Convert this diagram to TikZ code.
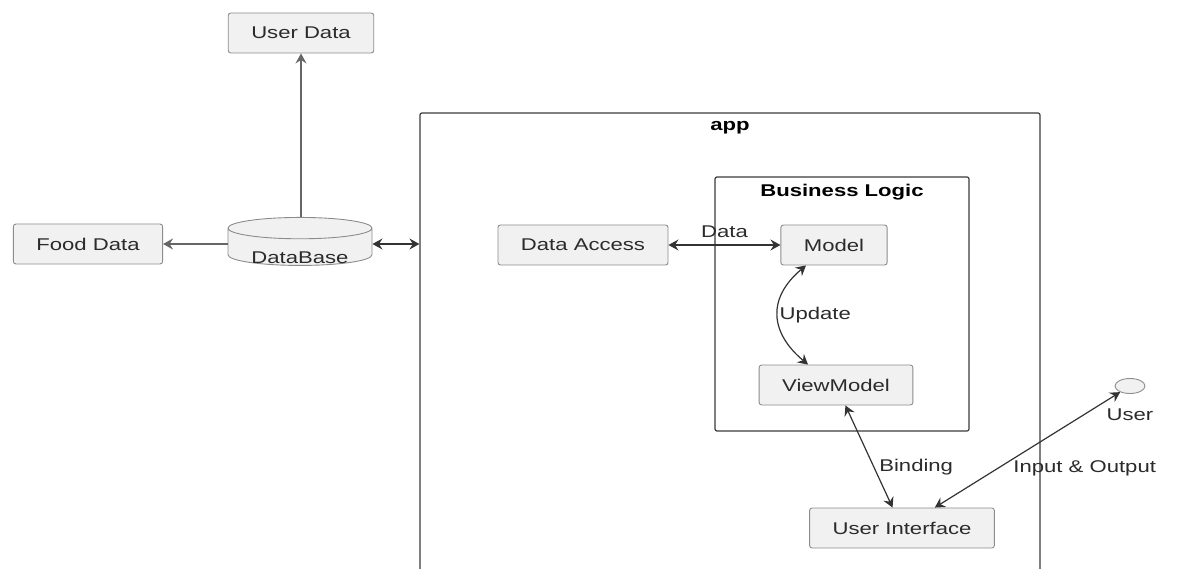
\documentclass[tikz,border=0pt]{standalone}
\usepackage{fontspec}
\setmainfont{Liberation Sans}[FakeStretch=1.3]
\usetikzlibrary{arrows.meta,positioning,shapes.geometric}
\definecolor{boxfill}{HTML}{F1F1F1}
\definecolor{boxline}{HTML}{8C8C8C}
\definecolor{frameline}{HTML}{3A3A3A}
\definecolor{ink}{HTML}{2B2B2B}
\tikzset{
  box/.style   = {rectangle, rounded corners=2.5pt, draw=boxline,
                  fill=boxfill, minimum height=40pt, inner xsep=23pt,
                  font=\fontsize{17pt}{20pt}\selectfont, text=ink,
                  line width=0.9pt},
  dbbox/.style = {cylinder, shape border rotate=90, aspect=0.22,
                  draw=boxline, fill=boxfill, minimum width=144pt,
                  minimum height=48pt, inner sep=0pt, line width=0.9pt,
                  font=\fontsize{17pt}{20pt}\selectfont, text=ink},
  frame/.style = {rectangle, rounded corners=2pt, draw=frameline,
                  line width=1.2pt},
  title/.style = {font=\fontsize{17pt}{20pt}\selectfont\bfseries,
                  text=black, inner sep=1pt},
  lbl/.style   = {font=\fontsize{17pt}{20pt}\selectfont, text=ink,
                  inner sep=1pt},
  arr/.style   = {{Stealth[length=10pt, width=11pt, inset=3.5pt]}-{Stealth[length=10pt, width=11pt, inset=3.5pt]},
                  draw=black!80, line width=1.2pt},
  oarr/.style  = {-{Stealth[length=10pt, width=11pt, inset=3.5pt]},
                  draw=black!60, line width=1.2pt}
}

\begin{document}
\begin{tikzpicture}[x=1pt, y=-1pt]
  \clip (0,0) rectangle (1178,569);

  % frames
  \node[frame, minimum width=620pt, minimum height=500pt] (app) at (730,363) {};
  \node[title, below=8pt of app.north] (apptitle) {app};
  \node[frame, minimum width=254pt, minimum height=254pt] (logic) at (842,304) {};
  \node[title, below=7pt of logic.north] (logictitle) {Business Logic};

  % storage side
  \node[dbbox] (db) at (300,247) {\raisebox{-17pt}[0pt][0pt]{DataBase}};
  \node[box] (userdata) at (301,33) {User Data};
  \node[box] (fooddata) at (88,244) {Food Data};

  % app side
  \node[box] (access) at (583,245) {Data Access};
  \node[box] (model) at (834,245) {Model};
  \node[box] (viewmodel) at (836,385) {ViewModel};
  \node[box] (ui) at (902,528) {User Interface};

  \node[ellipse, draw=boxline, fill=boxfill, line width=0.9pt,
        minimum width=30pt, minimum height=15pt, inner sep=0pt] (usr) at (1130,386) {};
  \node[lbl, below=14pt of usr] (usrlbl) {User};

  % connectors
  \draw[oarr] (db.north -| userdata) -- (userdata);
  \draw[oarr] (db.west |- fooddata) -- (fooddata.east);
  \draw[arr] (db.east |- fooddata) -- (fooddata -| app.west);
  \draw[arr] (access) -- node[lbl, midway, yshift=13pt] {Data} (model);
  \draw[arr] ([xshift=-28pt]model.south) to[out=220, in=140, looseness=1.3]
    node[lbl, midway, right] {Update} ([xshift=-28pt]viewmodel.north);
  \draw[arr] (viewmodel) -- node[lbl, pos=0.6, right=4pt] {Binding} (ui);
  \draw[arr] (usr) -- node[lbl, pos=0.66, right=14pt] {Input \& Output} (ui);
\end{tikzpicture}
\end{document}
